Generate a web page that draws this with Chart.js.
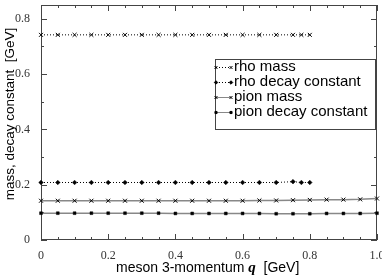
<!DOCTYPE html>
<html>
<head>
<meta charset="utf-8">
<script src="https://cdn.jsdelivr.net/npm/chart.js@4/dist/chart.umd.min.js"></script>
<style>
  html, body { margin: 0; padding: 0; background: #fff; }
  #wrap { width: 382px; height: 275px; }
</style>
</head>
<body>
<div id="wrap"><canvas id="chart" width="382" height="275"></canvas></div>
<script>
// meson 3-momentum q [GeV]
const qRho = [0, 0.05, 0.1, 0.15, 0.2, 0.25, 0.3, 0.35, 0.4, 0.45, 0.5, 0.55, 0.6, 0.65, 0.7, 0.75, 0.775, 0.8];
const qPion = [0, 0.05, 0.1, 0.15, 0.2, 0.25, 0.3, 0.35, 0.4, 0.45, 0.5, 0.55, 0.6, 0.65, 0.7, 0.75, 0.8, 0.85, 0.9, 0.95, 1];

const rhoMass = [0.742, 0.742, 0.742, 0.742, 0.742, 0.742, 0.742, 0.742, 0.742, 0.742, 0.742, 0.742, 0.742, 0.742, 0.742, 0.742, 0.742, 0.742];
const rhoDecay = [0.208, 0.208, 0.208, 0.208, 0.208, 0.208, 0.208, 0.208, 0.208, 0.208, 0.208, 0.208, 0.208, 0.208, 0.208, 0.211, 0.208, 0.208];
const pionMass = [0.142, 0.142, 0.142, 0.142, 0.142, 0.142, 0.142, 0.142, 0.142, 0.142, 0.142, 0.142, 0.142, 0.143, 0.143, 0.144, 0.145, 0.146, 0.146, 0.147, 0.150];
const pionDecay = [0.097, 0.097, 0.097, 0.097, 0.097, 0.097, 0.097, 0.097, 0.096, 0.096, 0.096, 0.096, 0.096, 0.096, 0.095, 0.095, 0.095, 0.096, 0.096, 0.096, 0.097];

const seriesNames = ['rho mass', 'rho decay constant', 'pion mass', 'pion decay constant'];
const xTicks = [0, 0.2, 0.4, 0.6, 0.8, 1];
const yTicks = [0, 0.2, 0.4, 0.6, 0.8];

const xTitle = ['meson 3-momentum ', 'q', '  [GeV]'];
const yTitle = 'mass, decay constant  [GeV]';

const pts = (xs, ys) => xs.map((x, i) => ({x: x, y: ys[i]}));

const frameColor = '#444';

// frame with inward ticks on all four sides
const framePlugin = {
  id: 'frame',
  beforeDatasetsDraw(chart) {
    const {ctx, chartArea: a, scales} = chart;
    const xs = scales.x, ys = scales.y;
    ctx.save();
    ctx.strokeStyle = frameColor;
    ctx.lineWidth = 1;
    ctx.strokeRect(a.left + 0.5, a.top + 0.5, a.right - a.left - 1, a.bottom - a.top - 1);
    ctx.beginPath();
    for (let i = 0; i <= 20; i++) {
      const v = i * 0.05;
      const px = Math.round(xs.getPixelForValue(v)) + 0.5;
      const len = (i % 4 === 0) ? 6 : 3;
      ctx.moveTo(px, a.bottom); ctx.lineTo(px, a.bottom - len);
      ctx.moveTo(px, a.top); ctx.lineTo(px, a.top + len);
    }
    for (let i = 0; i <= 8; i++) {
      const v = i * 0.1;
      const py = Math.round(ys.getPixelForValue(v)) + 0.5;
      const len = (i % 2 === 0) ? 6 : 3;
      ctx.moveTo(a.left, py); ctx.lineTo(a.left + len, py);
      ctx.moveTo(a.right, py); ctx.lineTo(a.right - len, py);
    }
    ctx.stroke();
    ctx.restore();
  },
  afterDraw(chart) {
    const {ctx} = chart;
    ctx.save();
    ctx.fillStyle = '#000';
    // x title with bold italic q
    ctx.textBaseline = 'middle';
    const f1 = '14px "Liberation Sans", Arial, sans-serif';
    const f2 = 'bold italic 15px "Liberation Serif", "Times New Roman", serif';
    ctx.font = f1; const w1 = ctx.measureText(xTitle[0]).width;
    ctx.font = f2; const w2 = ctx.measureText(xTitle[1]).width;
    let x = 116;
    ctx.textAlign = 'left';
    ctx.font = f1; ctx.fillText(xTitle[0], x, 268); x += w1;
    ctx.font = f2; ctx.fillText(xTitle[1], x, 268); x += w2;
    ctx.font = f1; ctx.fillText(xTitle[2], x, 268);
    // y title
    ctx.translate(10, 114);
    ctx.rotate(-Math.PI / 2);
    ctx.textAlign = 'center';
    ctx.font = '13.5px "Liberation Sans", Arial, sans-serif';
    ctx.fillText(yTitle, 0, 0);
    ctx.restore();
  }
};

// boxed legend inside the plot
const boxLegend = {
  id: 'boxLegend',
  afterDatasetsDraw(chart) {
    const {ctx} = chart;
    const left = 215, top = 59, right = 376, bottom = 130;
    ctx.save();
    ctx.fillStyle = '#fff';
    ctx.fillRect(left, top, right - left, bottom - top);
    ctx.strokeStyle = frameColor;
    ctx.lineWidth = 1;
    ctx.strokeRect(left + 0.5, top + 0.5, right - left - 1, bottom - top - 1);
    const rows = [67, 82, 97, 112];
    chart.data.datasets.forEach((ds, i) => {
      const y = rows[i];
      const x0 = 216, x1 = 231;
      ctx.save();
      ctx.strokeStyle = ds.borderColor;
      ctx.lineWidth = 1;
      ctx.setLineDash(ds.borderDash || []);
      ctx.beginPath();
      ctx.moveTo(x0, y + 0.5); ctx.lineTo(x1, y + 0.5);
      ctx.stroke();
      ctx.restore();
      const opts = {pointStyle: ds.pointStyle, radius: ds.pointRadius * 0.75, rotation: 0, borderWidth: 1};
      ctx.fillStyle = '#000'; ctx.strokeStyle = '#000'; ctx.lineWidth = 1;
      Chart.helpers.drawPoint(ctx, opts, x0, y + 0.5);
      Chart.helpers.drawPoint(ctx, opts, x1, y + 0.5);
      ctx.fillStyle = '#000';
      ctx.font = '15px "Liberation Sans", Arial, sans-serif';
      ctx.textAlign = 'left';
      ctx.textBaseline = 'middle';
      ctx.fillText(ds.label, 234, y);
    });
    ctx.restore();
  }
};

const noPad = s => { s.paddingTop = 0; s.paddingBottom = 0; s.paddingLeft = 0; s.paddingRight = 0; };

new Chart(document.getElementById('chart'), {
  type: 'scatter',
  data: {
    datasets: [
      {
        label: seriesNames[0],
        data: pts(qRho, rhoMass),
        showLine: true,
        clip: false,
        borderColor: '#000',
        borderWidth: 1,
        borderDash: [1, 2],
        pointStyle: 'crossRot',
        pointRadius: 2.8,
        pointBorderColor: '#000',
        pointBackgroundColor: '#000',
        pointBorderWidth: 1
      },
      {
        label: seriesNames[1],
        data: pts(qRho, rhoDecay),
        showLine: true,
        clip: false,
        borderColor: '#000',
        borderWidth: 1,
        borderDash: [1, 2],
        pointStyle: 'rectRot',
        pointRadius: 2.3,
        pointBorderColor: '#000',
        pointBackgroundColor: '#000',
        pointBorderWidth: 0.5
      },
      {
        label: seriesNames[2],
        data: pts(qPion, pionMass),
        showLine: true,
        clip: false,
        borderColor: '#888',
        borderWidth: 1.5,
        pointStyle: 'crossRot',
        pointRadius: 2.8,
        pointBorderColor: '#000',
        pointBackgroundColor: '#000',
        pointBorderWidth: 1
      },
      {
        label: seriesNames[3],
        data: pts(qPion, pionDecay),
        showLine: true,
        clip: false,
        borderColor: '#888',
        borderWidth: 1.5,
        pointStyle: 'rect',
        pointRadius: 2,
        pointBorderColor: '#000',
        pointBackgroundColor: '#000',
        pointBorderWidth: 0.5
      }
    ]
  },
  options: {
    responsive: false,
    animation: false,
    layout: { padding: { top: 1, right: 2, left: 0, bottom: 0 } },
    plugins: {
      legend: { display: false },
      tooltip: { enabled: false }
    },
    scales: {
      x: {
        type: 'linear',
        min: 0,
        max: 1,
        grid: { display: false },
        border: { display: false },
        afterBuildTicks: s => { s.ticks = xTicks.map(v => ({value: v})); },
        afterFit: s => { s.height = 35; noPad(s); },
        ticks: {
          padding: 1,
          maxRotation: 0,
          autoSkip: false,
          color: '#333',
          font: { family: '"Liberation Serif", "Times New Roman", serif', size: 12 }
        }
      },
      y: {
        type: 'linear',
        min: 0,
        max: 0.85,
        grid: { display: false },
        border: { display: false },
        afterBuildTicks: s => { s.ticks = yTicks.map(v => ({value: v})); },
        afterFit: s => { s.width = 41; noPad(s); },
        ticks: {
          padding: 3,
          color: '#333',
          font: { family: '"Liberation Serif", "Times New Roman", serif', size: 12 }
        }
      }
    }
  },
  plugins: [framePlugin, boxLegend]
});
</script>
</body>
</html>
